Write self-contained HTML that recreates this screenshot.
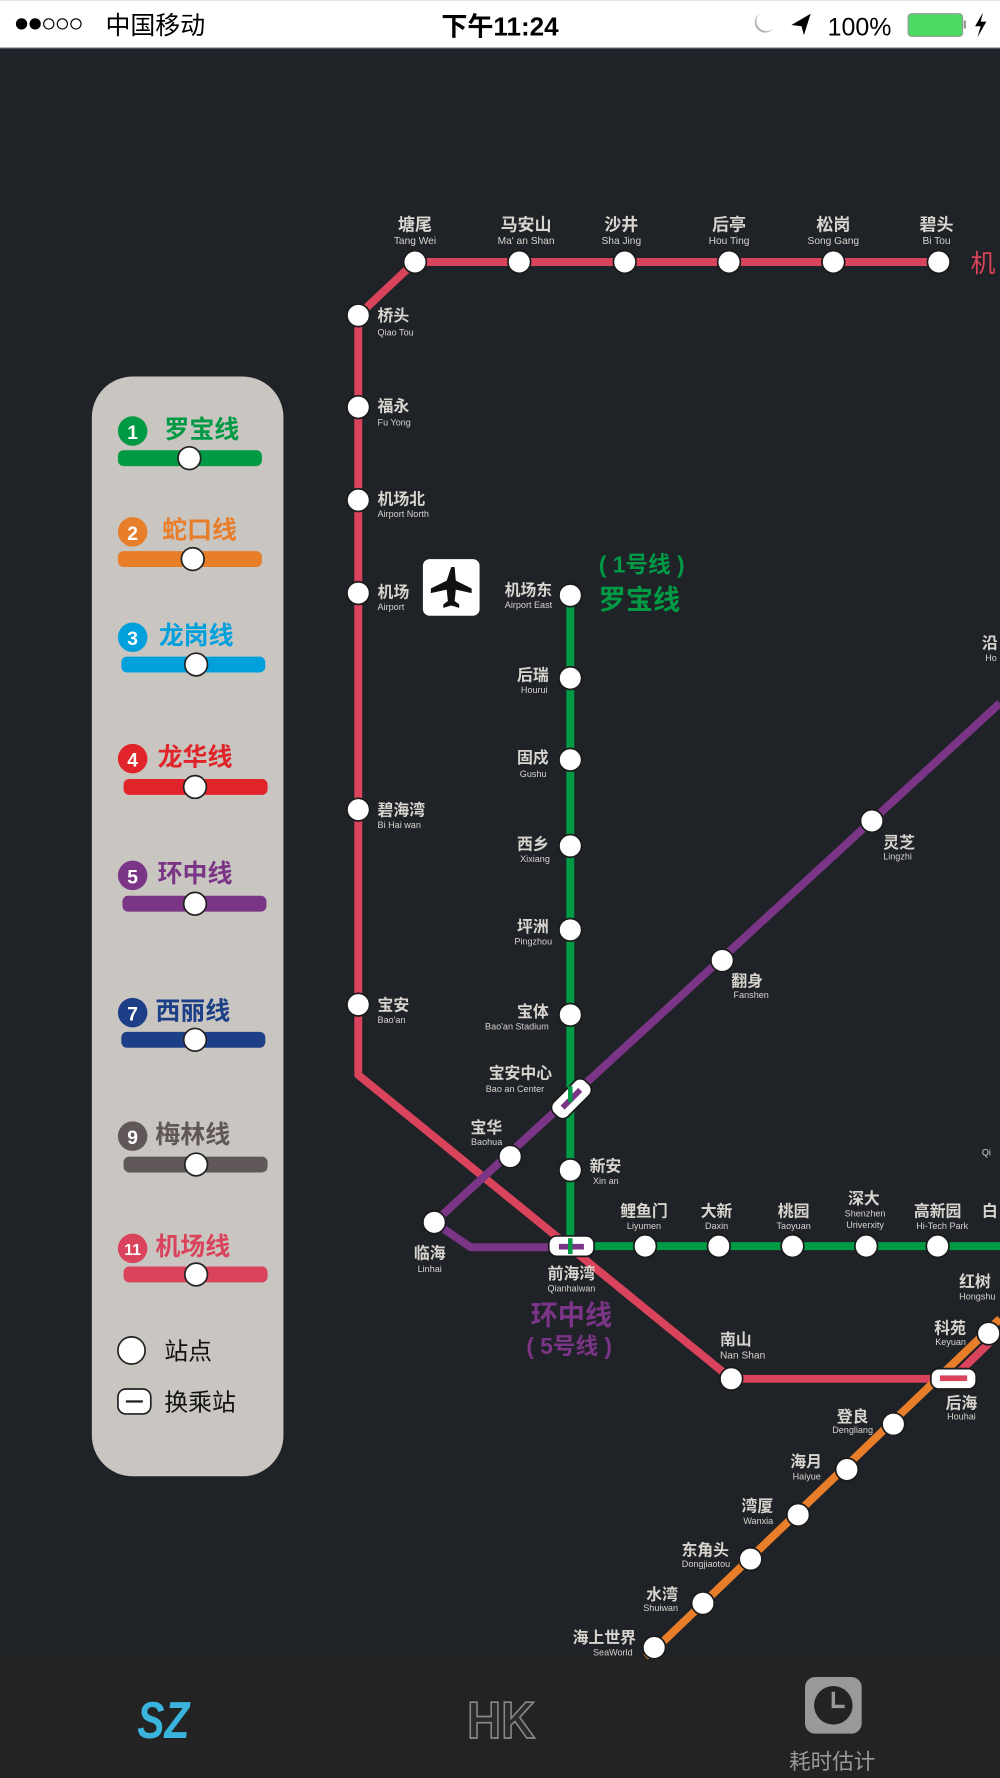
<!DOCTYPE html>
<html><head><meta charset="utf-8"><style>
html,body{margin:0;padding:0;background:#1f2226;}
svg{display:block}
text{font-family:"Liberation Sans","Noto Sans CJK SC",sans-serif;}
</style></head><body>
<svg width="1000" height="1778" viewBox="0 0 882 1568" xmlns="http://www.w3.org/2000/svg">
<rect width="882" height="1568" fill="#1f2226"/>
<!-- status bar -->
<rect width="882" height="42" fill="#fff"/>
<line x1="0" y1="42.5" x2="882" y2="42.5" stroke="#555c66" stroke-width="1"/>
<g fill="#000"><circle cx="19" cy="21" r="5"/><circle cx="31" cy="21" r="5"/></g>
<g fill="none" stroke="#000" stroke-width="1"><circle cx="43" cy="21" r="4.5"/><circle cx="55" cy="21" r="4.5"/><circle cx="67" cy="21" r="4.5"/></g>
<text x="93" y="30" font-size="22" fill="#000">中国移动</text>
<text x="441" y="31" font-size="23" font-weight="bold" fill="#000" text-anchor="middle">下午11:24</text>
<path d="M670 12 a9 9 0 1 0 12 13 a8 8 0 0 1 -12 -13z" fill="#b0b0b0"/>
<path d="M698 22 L715 12 L709 31 L707 23 Z" fill="#000"/>
<text x="730" y="31" font-size="22" fill="#000">100%</text>
<rect x="801" y="12" width="48" height="20" rx="3" fill="#4cd964" stroke="#999" stroke-width="1"/>
<rect x="850" y="18" width="2" height="7" fill="#999"/>
<path d="M867 11 L860 23 L865 23 L862 33 L870 19 L865 19 Z" fill="#000"/>

<!-- lines -->
<g fill="none" stroke-width="7" stroke-linejoin="round">
<polyline stroke="#d9435b" points="828,231 366,231 316,278 316,948 645,1216 840,1216 882,1175"/>
<polyline stroke="#009944" points="503,525 503,1099 882,1099"/>
<polyline stroke="#7b3586" points="882,620 383,1078 415,1100 503,1100"/>
<polyline stroke="#e87e2a" points="882,1163 570,1462"/>
</g>

<!-- stations -->
<g fill="#fff" stroke="#1a1a1a" stroke-width="1.5">
<circle cx="366" cy="231" r="10"/><circle cx="458" cy="231" r="10"/><circle cx="551" cy="231" r="10"/><circle cx="643" cy="231" r="10"/><circle cx="735" cy="231" r="10"/><circle cx="828" cy="231" r="10"/>
<circle cx="316" cy="278" r="10"/><circle cx="316" cy="359" r="10"/><circle cx="316" cy="441" r="10"/><circle cx="316" cy="523" r="10"/><circle cx="316" cy="714" r="10"/><circle cx="316" cy="886" r="10"/>
<circle cx="503" cy="525" r="10"/><circle cx="503" cy="598" r="10"/><circle cx="503" cy="670" r="10"/><circle cx="503" cy="746" r="10"/><circle cx="503" cy="820" r="10"/><circle cx="503" cy="895" r="10"/><circle cx="503" cy="1032" r="10"/>
<circle cx="769" cy="724" r="10"/><circle cx="637" cy="847" r="10"/><circle cx="450" cy="1020" r="10"/><circle cx="383" cy="1078" r="10"/>
<circle cx="569" cy="1099" r="10"/><circle cx="634" cy="1099" r="10"/><circle cx="699" cy="1099" r="10"/><circle cx="764" cy="1099" r="10"/><circle cx="827" cy="1099" r="10"/>
<circle cx="645" cy="1216" r="10"/><circle cx="872" cy="1176" r="10"/>
<circle cx="788" cy="1256" r="10"/><circle cx="747" cy="1296" r="10"/><circle cx="704" cy="1336" r="10"/><circle cx="662" cy="1375" r="10"/><circle cx="620" cy="1414" r="10"/><circle cx="577" cy="1453" r="10"/>
</g>
<!-- interchanges -->
<g stroke="#1a1a1a" stroke-width="1.5">
<rect x="484" y="1090" width="40" height="18" rx="7" fill="#fff"/>
<rect x="493" y="1097" width="22" height="5" fill="#7b3586" stroke="none"/><rect x="501" y="1092" width="4" height="14" fill="#009944" stroke="none"/>
<rect x="821" y="1207" width="40" height="18" rx="7" fill="#fff"/>
<rect x="829" y="1213" width="24" height="5" fill="#d9435b" stroke="none"/>
<g transform="translate(504,969) rotate(-45)"><rect x="-20" y="-9" width="40" height="18" rx="7" fill="#fff"/><rect x="-11" y="-2.5" width="22" height="5" fill="#7b3586" stroke="none"/></g>
<rect x="501" y="958" width="4" height="14" fill="#009944" stroke="none"/>
</g>

<!-- airport icon -->
<rect x="373" y="493" width="50" height="50" rx="6" fill="#fff"/>
<path d="M398 500 l3 0 l1 12 l14 7 l0 4 l-14 -3 l-1 10 l4 3 l0 3 l-7 -2 l-7 2 l0 -3 l4 -3 l-1 -10 l-14 3 l0 -4 l14 -7 z" fill="#111"/>

<!-- labels -->
<g fill="#d8d4cf" font-weight="bold">
<g font-size="15" text-anchor="middle">
<text x="366" y="203">塘尾</text><text x="464" y="203">马安山</text><text x="548" y="203">沙井</text><text x="643" y="203">后亭</text><text x="735" y="203">松岗</text><text x="826" y="203">碧头</text>
</g>
<g font-size="9" text-anchor="middle" font-weight="normal">
<text x="366" y="215">Tang Wei</text><text x="464" y="215">Ma' an Shan</text><text x="548" y="215">Sha Jing</text><text x="643" y="215">Hou Ting</text><text x="735" y="215">Song Gang</text><text x="826" y="215">Bi Tou</text>
</g>
<g font-size="14">
<text x="333" y="283">桥头</text><text x="333" y="363">福永</text><text x="333" y="445">机场北</text><text x="333" y="527">机场</text><text x="333" y="719">碧海湾</text><text x="333" y="891">宝安</text>
</g>
<g font-size="8" font-weight="normal">
<text x="333" y="296">Qiao Tou</text><text x="333" y="375">Fu Yong</text><text x="333" y="456">Airport North</text><text x="333" y="538">Airport</text><text x="333" y="730">Bi Hai wan</text><text x="333" y="902">Bao'an</text>
</g>
<g font-size="14" text-anchor="end">
<text x="487" y="525">机场东</text><text x="484" y="600">后瑞</text><text x="484" y="673">固戍</text><text x="484" y="749">西乡</text><text x="484" y="822">坪洲</text><text x="484" y="897">宝体</text><text x="487" y="951">宝安中心</text><text x="443" y="999">宝华</text>
</g>
<g font-size="8" font-weight="normal" text-anchor="end">
<text x="487" y="536">Airport East</text><text x="483" y="611">Hourui</text><text x="482" y="685">Gushu</text><text x="485" y="760">Xixiang</text><text x="487" y="833">Pingzhou</text><text x="484" y="908">Bao'an Stadium</text><text x="480" y="963">Bao an Center</text><text x="443" y="1010">Baohua</text>
</g>
<text x="520" y="1033" font-size="14">新安</text><text x="523" y="1044" font-size="8" font-weight="normal">Xin an</text>
<text x="779" y="748" font-size="14">灵芝</text><text x="779" y="758" font-size="8" font-weight="normal">Lingzhi</text>
<text x="645" y="870" font-size="14">翻身</text><text x="647" y="880" font-size="8" font-weight="normal">Fanshen</text>
<text x="379" y="1110" font-size="14" text-anchor="middle">临海</text><text x="379" y="1122" font-size="8" font-weight="normal" text-anchor="middle">Linhai</text>
<text x="504" y="1128" font-size="14" text-anchor="middle">前海湾</text><text x="504" y="1139" font-size="8" font-weight="normal" text-anchor="middle">Qianhaiwan</text>
<g font-size="14" text-anchor="middle">
<text x="568" y="1073">鲤鱼门</text><text x="632" y="1073">大新</text><text x="700" y="1073">桃园</text><text x="762" y="1062">深大</text><text x="827" y="1073">高新园</text>
</g>
<g font-size="8" font-weight="normal" text-anchor="middle">
<text x="568" y="1084">Liyumen</text><text x="632" y="1084">Daxin</text><text x="700" y="1084">Taoyuan</text><text x="763" y="1073">Shenzhen</text><text x="763" y="1083">Uriverxity</text><text x="831" y="1084">Hi-Tech Park</text>
</g>
<text x="866" y="1073" font-size="14">白</text>
<text x="846" y="1135" font-size="14">红树</text><text x="846" y="1146" font-size="8" font-weight="normal">Hongshu</text>
<text x="852" y="1176" font-size="14" text-anchor="end">科苑</text><text x="852" y="1186" font-size="8" font-weight="normal" text-anchor="end">Keyuan</text>
<text x="635" y="1186" font-size="14">南山</text><text x="635" y="1198" font-size="9" font-weight="normal">Nan Shan</text>
<text x="848" y="1242" font-size="14" text-anchor="middle">后海</text><text x="848" y="1252" font-size="8" font-weight="normal" text-anchor="middle">Houhai</text>
<g font-size="14" text-anchor="end">
<text x="766" y="1254">登良</text><text x="725" y="1294">海月</text><text x="682" y="1333">湾厦</text><text x="643" y="1372">东角头</text><text x="598" y="1411">水湾</text><text x="561" y="1449">海上世界</text>
</g>
<g font-size="8" font-weight="normal" text-anchor="end">
<text x="770" y="1264">Dengliang</text><text x="724" y="1305">Haiyue</text><text x="682" y="1344">Wanxia</text><text x="644" y="1382">Dongjiaotou</text><text x="598" y="1421">Shuiwan</text><text x="558" y="1460">SeaWorld</text>
</g>
<text x="866" y="572" font-size="14">沿</text><text x="869" y="583" font-size="8" font-weight="normal">Ho</text>
<text x="866" y="1019" font-size="8" font-weight="normal">Qi</text>
</g>
<text x="856" y="240" font-size="22" fill="#d9435b">机</text>
<text x="566" y="505" font-size="20" font-weight="bold" fill="#009944" text-anchor="middle">( 1号线 )</text>
<text x="564" y="537" font-size="24" font-weight="bold" fill="#009944" text-anchor="middle">罗宝线</text>
<text x="504" y="1168" font-size="24" font-weight="bold" fill="#7b3586" text-anchor="middle">环中线</text>
<text x="502" y="1194" font-size="20" font-weight="bold" fill="#7b3586" text-anchor="middle">( 5号线 )</text>

<!-- legend -->
<rect x="81" y="332" width="169" height="970" rx="36" fill="#c9c5c0"/>
<g font-weight="bold" font-size="22">
<circle cx="117" cy="380" r="13" fill="#009944"/><text x="117" y="387" font-size="17" fill="#fff" text-anchor="middle">1</text><text x="145" y="386" fill="#009944">罗宝线</text>
<rect x="104" y="397" width="127" height="14" rx="5" fill="#009944"/><circle cx="167" cy="404" r="10" fill="#fff" stroke="#222" stroke-width="1.5"/>
<circle cx="117" cy="469" r="13" fill="#e87e2a"/><text x="117" y="476" font-size="17" fill="#fff" text-anchor="middle">2</text><text x="143" y="475" fill="#e87e2a">蛇口线</text>
<rect x="104" y="486" width="127" height="14" rx="5" fill="#e87e2a"/><circle cx="170" cy="493" r="10" fill="#fff" stroke="#222" stroke-width="1.5"/>
<circle cx="117" cy="562" r="13" fill="#00a0dc"/><text x="117" y="569" font-size="17" fill="#fff" text-anchor="middle">3</text><text x="140" y="568" fill="#00a0dc">龙岗线</text>
<rect x="107" y="579" width="127" height="14" rx="5" fill="#00a0dc"/><circle cx="173" cy="586" r="10" fill="#fff" stroke="#222" stroke-width="1.5"/>
<circle cx="117" cy="669" r="13" fill="#e1232a"/><text x="117" y="676" font-size="17" fill="#fff" text-anchor="middle">4</text><text x="139" y="675" fill="#e1232a">龙华线</text>
<rect x="109" y="687" width="127" height="14" rx="5" fill="#e1232a"/><circle cx="172" cy="694" r="10" fill="#fff" stroke="#222" stroke-width="1.5"/>
<circle cx="117" cy="772" r="13" fill="#7b3586"/><text x="117" y="779" font-size="17" fill="#fff" text-anchor="middle">5</text><text x="139" y="778" fill="#7b3586">环中线</text>
<rect x="108" y="790" width="127" height="14" rx="5" fill="#7b3586"/><circle cx="172" cy="797" r="10" fill="#fff" stroke="#222" stroke-width="1.5"/>
<circle cx="117" cy="893" r="13" fill="#1d3f87"/><text x="117" y="900" font-size="17" fill="#fff" text-anchor="middle">7</text><text x="137" y="899" fill="#1d3f87">西丽线</text>
<rect x="107" y="910" width="127" height="14" rx="5" fill="#1d3f87"/><circle cx="172" cy="917" r="10" fill="#fff" stroke="#222" stroke-width="1.5"/>
<circle cx="117" cy="1002" r="13" fill="#605759"/><text x="117" y="1009" font-size="17" fill="#fff" text-anchor="middle">9</text><text x="137" y="1008" fill="#605759">梅林线</text>
<rect x="109" y="1020" width="127" height="14" rx="5" fill="#605759"/><circle cx="173" cy="1027" r="10" fill="#fff" stroke="#222" stroke-width="1.5"/>
<circle cx="117" cy="1101" r="13" fill="#d9435b"/><text x="117" y="1107" font-size="14" fill="#fff" text-anchor="middle">11</text><text x="137" y="1107" fill="#d9435b">机场线</text>
<rect x="109" y="1117" width="127" height="14" rx="5" fill="#d9435b"/><circle cx="173" cy="1124" r="10" fill="#fff" stroke="#222" stroke-width="1.5"/>
</g>
<circle cx="116" cy="1191" r="12" fill="#fff" stroke="#222" stroke-width="1.5"/>
<text x="145" y="1199" font-size="21" fill="#111">站点</text>
<rect x="104" y="1225" width="29" height="22" rx="7" fill="#fff" stroke="#222" stroke-width="1.5"/><rect x="111" y="1235" width="15" height="2" fill="#222"/>
<text x="145" y="1244" font-size="21" fill="#111">换乘站</text>

<!-- tab bar -->
<rect x="0" y="1463" width="882" height="105" fill="#232323"/>
<text x="144" y="1533" font-size="46" font-weight="bold" font-style="italic" fill="#3ab4dc" text-anchor="middle" textLength="46" lengthAdjust="spacingAndGlyphs">SZ</text>
<text x="442" y="1533" font-size="46" font-weight="bold" fill="#2b2b2b" stroke="#888" stroke-width="1.5" text-anchor="middle" textLength="60" lengthAdjust="spacingAndGlyphs">HK</text>
<rect x="710" y="1479" width="50" height="50" rx="9" fill="#999"/>
<circle cx="735" cy="1504" r="17" fill="#232323"/>
<path d="M735 1492 v13 h10" stroke="#999" stroke-width="3" fill="none"/>
<text x="734" y="1560" font-size="19" fill="#999" text-anchor="middle">耗时估计</text>
</svg>
</body></html>
